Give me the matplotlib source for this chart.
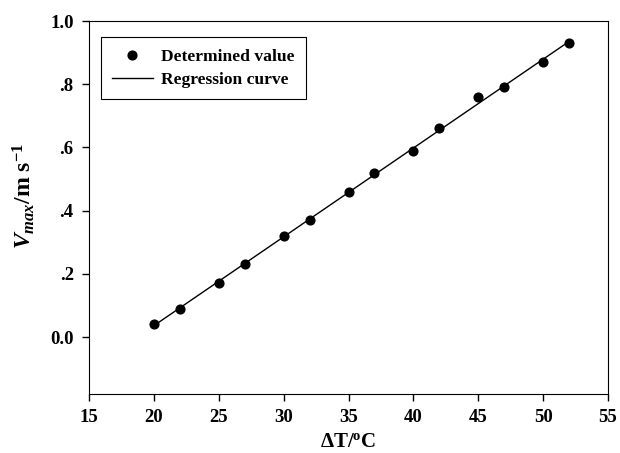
import numpy as np
import matplotlib
matplotlib.use('Agg')
import matplotlib.pyplot as plt

plt.rcParams['font.family'] = ['Liberation Serif', 'DejaVu Serif']
plt.rcParams['font.weight'] = 'bold'
plt.rcParams['mathtext.fontset'] = 'custom'
plt.rcParams['mathtext.rm'] = 'Liberation Serif:bold'
plt.rcParams['mathtext.it'] = 'Liberation Serif:italic:bold'
plt.rcParams['mathtext.bf'] = 'Liberation Serif:bold'

delta_t = [20, 22, 25, 27, 30, 32, 35, 37, 40, 42, 45, 47, 50, 52]
v_max = [0.04, 0.09, 0.17, 0.23, 0.32, 0.37, 0.46, 0.52, 0.59, 0.66, 0.76, 0.79, 0.87, 0.93]

x_ticks = [15, 20, 25, 30, 35, 40, 45, 50, 55]
y_ticks = [0.0, 0.2, 0.4, 0.6, 0.8, 1.0]
y_tick_labels = ['0.0', '.2', '.4', '.6', '.8', '1.0']

# linear regression through the measured points
slope, icpt = np.polyfit(delta_t, v_max, 1)
fit_x = np.array([delta_t[0], delta_t[-1]])
fit_y = slope * fit_x + icpt

fig = plt.figure(figsize=(6.2, 4.53), dpi=100)
ax = fig.add_axes([89/620, 1 - 394/453, (608-89)/620, (394-21)/453])

ax.plot(delta_t, v_max, 'o', color='black', markersize=6.3, label='Determined value')
ax.plot(fit_x, fit_y, '-', color='black', linewidth=1, label='Regression curve')

ax.set_xlim(15, 55)
ax.set_ylim(-0.18, 1.0)
ax.set_xticks(x_ticks)
ax.set_yticks(y_ticks)
ax.set_yticklabels(y_tick_labels)
ax.tick_params(labelsize=13.5, direction='out', length=5, width=1, pad=6)
for lbl in ax.get_xticklabels() + ax.get_yticklabels():
    lbl.set_fontweight('bold')

ax.set_xlabel('$\\Delta$T/$^{\\mathrm{o}}$C', fontsize=15, fontweight='bold', labelpad=4)
ax.set_ylabel('$V_{max}$/m s$^{\\mathrm{-1}}$', fontsize=17, fontweight='bold')
ax.yaxis.set_label_coords(-0.1, 0.53)

leg = ax.legend(loc='upper left', bbox_to_anchor=(0.023, 0.957), fontsize=12.6,
                frameon=True, fancybox=False, edgecolor='black', framealpha=1,
                borderaxespad=0, borderpad=0.65, handlelength=2.3,
                handletextpad=0.5, labelspacing=0.4)
leg.get_frame().set_linewidth(0.8)
for t in leg.get_texts():
    t.set_fontweight('bold')

fig.savefig('out.png', dpi=100)
